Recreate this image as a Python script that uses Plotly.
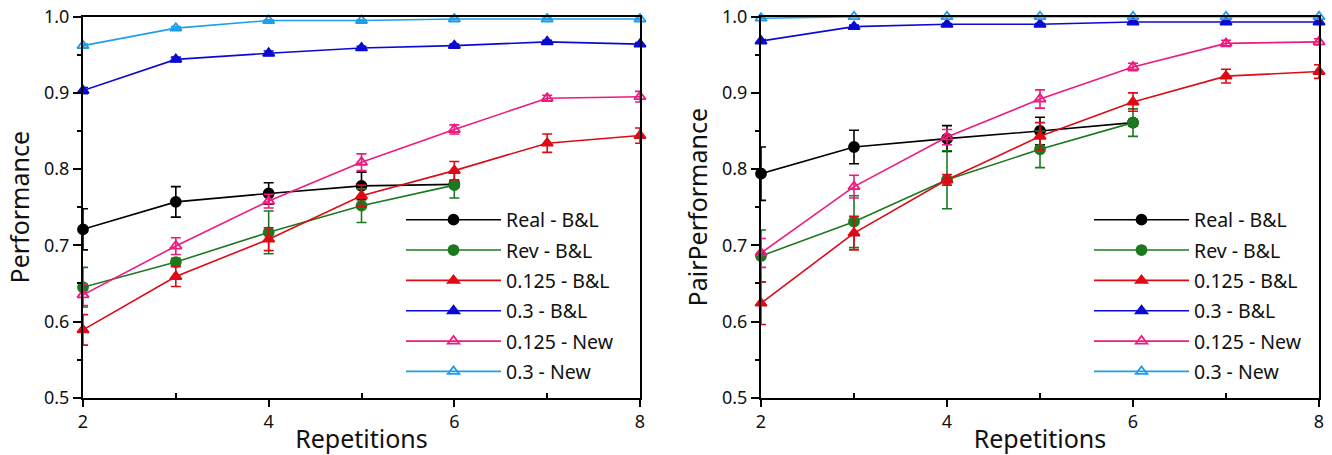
import plotly.graph_objects as go

reps = [2, 3, 4, 5, 6, 7, 8]
reps6 = [2, 3, 4, 5, 6]

names = ["Real - B&L", "Rev - B&L", "0.125 - B&L", "0.3 - B&L", "0.125 - New", "0.3 - New"]
colors = ["#000000", "#1b7a1e", "#dd0b16", "#0a0ad2", "#ee1a7e", "#1e9ee8"]
symbols = ["circle", "circle", "triangle-up", "triangle-up", "triangle-up-open", "triangle-up-open"]

# Left panel: Performance
perf_real = [0.721, 0.757, 0.768, 0.778, 0.780]
perf_real_err = [0.027, 0.020, 0.014, 0.018, 0.004]
perf_rev = [0.645, 0.678, 0.717, 0.752, 0.779]
perf_rev_err = [0.026, 0.005, 0.028, 0.022, 0.017]
perf_125bl = [0.589, 0.659, 0.708, 0.765, 0.798, 0.834, 0.844]
perf_125bl_err = [0.020, 0.013, 0.015, 0.014, 0.012, 0.012, 0.010]
perf_3bl = [0.903, 0.944, 0.952, 0.959, 0.962, 0.967, 0.964]
perf_3bl_err = [0.004, 0.003, 0.003, 0.002, 0.002, 0.002, 0.002]
perf_125new = [0.635, 0.699, 0.758, 0.809, 0.852, 0.893, 0.895]
perf_125new_err = [0.014, 0.011, 0.009, 0.011, 0.006, 0.004, 0.007]
perf_3new = [0.962, 0.985, 0.995, 0.995, 0.997, 0.997, 0.997]
perf_3new_err = [0.002, 0.002, 0.001, 0.001, 0.001, 0.001, 0.001]

# Right panel: PairPerformance
pair_real = [0.794, 0.829, 0.840, 0.850, 0.861]
pair_real_err = [0.035, 0.022, 0.017, 0.018, 0.004]
pair_rev = [0.686, 0.731, 0.786, 0.826, 0.861]
pair_rev_err = [0.034, 0.034, 0.038, 0.024, 0.018]
pair_125bl = [0.624, 0.716, 0.786, 0.843, 0.888, 0.922, 0.928]
pair_125bl_err = [0.028, 0.022, 0.007, 0.018, 0.012, 0.009, 0.009]
pair_3bl = [0.968, 0.987, 0.990, 0.990, 0.993, 0.993, 0.993]
pair_3bl_err = [0.002, 0.002, 0.001, 0.001, 0.001, 0.001, 0.001]
pair_125new = [0.690, 0.777, 0.842, 0.892, 0.934, 0.965, 0.967]
pair_125new_err = [0.019, 0.015, 0.010, 0.012, 0.005, 0.004, 0.004]
pair_3new = [0.998, 1.0, 1.0, 1.0, 1.0, 1.0, 1.0]
pair_3new_err = [0.001, 0.0, 0.0, 0.0, 0.0, 0.0, 0.0]

left_series = [
    (reps6, perf_real, perf_real_err),
    (reps6, perf_rev, perf_rev_err),
    (reps, perf_125bl, perf_125bl_err),
    (reps, perf_3bl, perf_3bl_err),
    (reps, perf_125new, perf_125new_err),
    (reps, perf_3new, perf_3new_err),
]
right_series = [
    (reps6, pair_real, pair_real_err),
    (reps6, pair_rev, pair_rev_err),
    (reps, pair_125bl, pair_125bl_err),
    (reps, pair_3bl, pair_3bl_err),
    (reps, pair_125new, pair_125new_err),
    (reps, pair_3new, pair_3new_err),
]

fig = go.Figure()

for panel, series in enumerate([left_series, right_series]):
    xa = "x" if panel == 0 else "x2"
    ya = "y" if panel == 0 else "y2"
    leg = "legend" if panel == 0 else "legend2"
    for i, (xs, ys, es) in enumerate(series):
        fig.add_trace(go.Scatter(
            x=xs, y=ys, name=names[i], mode="lines+markers",
            xaxis=xa, yaxis=ya, legend=leg, legendgroup=f"p{panel}g{i}",
            line=dict(color=colors[i], width=1.6),
            marker=dict(symbol=symbols[i], size=10, color=colors[i],
                        line=dict(color=colors[i], width=1.8)),
            error_y=dict(type="data", array=es, visible=True, color=colors[i],
                         thickness=1.6, width=5),
            cliponaxis=False,
        ))

font_family = "Noto Sans, DejaVu Sans, sans-serif"
W, H = 1332, 455

def xaxis_cfg(domain, anchor):
    return dict(
        domain=domain, anchor=anchor, range=[2, 8], tickvals=[2, 4, 6, 8],
        automargin=False, ticklabeloverflow="allow",
        ticks="outside", ticklen=7, tickwidth=1.5, tickcolor="#000",
        minor=dict(tickvals=[3, 5, 7], ticks="inside", ticklen=5, tickwidth=1.5, tickcolor="#000"),
        showline=True, linewidth=2, linecolor="#000", mirror=True,
        showgrid=False, zeroline=False,
        tickfont=dict(size=18, color="#111", family=font_family),
        title=dict(text="Repetitions", font=dict(size=25, color="#111", family=font_family), standoff=0),
    )

def yaxis_cfg(anchor, title):
    return dict(
        domain=[1 - 397.7 / H, 1 - 16.7 / H], anchor=anchor, range=[0.5, 1.0], dtick=0.1, tickformat=".1f",
        automargin=False, ticklabeloverflow="allow",
        ticks="outside", ticklen=8, tickwidth=1.5, tickcolor="#000",
        minor=dict(dtick=0.05, ticks="outside", ticklen=4, tickwidth=1.5, tickcolor="#000"),
        showline=True, linewidth=2, linecolor="#000", mirror=True,
        showgrid=False, zeroline=False,
        tickfont=dict(size=18, color="#111", family=font_family),
        title=dict(text=title, font=dict(size=25, color="#111", family=font_family), standoff=7),
    )

legend_common = dict(
    bgcolor="rgba(0,0,0,0)", borderwidth=0, font=dict(size=19.5, color="#111", family=font_family),
    tracegroupgap=2, itemwidth=95, xanchor="left", yanchor="top",
)

fig.update_layout(
    width=W, height=H,
    margin=dict(l=0, r=0, t=0, b=0),
    paper_bgcolor="white", plot_bgcolor="white",
    font=dict(family=font_family, color="#111"),
    xaxis=xaxis_cfg([83 / W, 640 / W], "y"),
    yaxis=yaxis_cfg("x", "Performance"),
    xaxis2=xaxis_cfg([761 / W, 1319 / W], "y2"),
    yaxis2=yaxis_cfg("x2", "PairPerformance"),
    legend=dict(x=401 / W, y=1 - 200.5 / H, **legend_common),
    legend2=dict(x=1089 / W, y=1 - 200.5 / H, **legend_common),
)

fig.write_html("out.html", config={"displayModeBar": False},
               post_script="document.body.style.margin='0';")
